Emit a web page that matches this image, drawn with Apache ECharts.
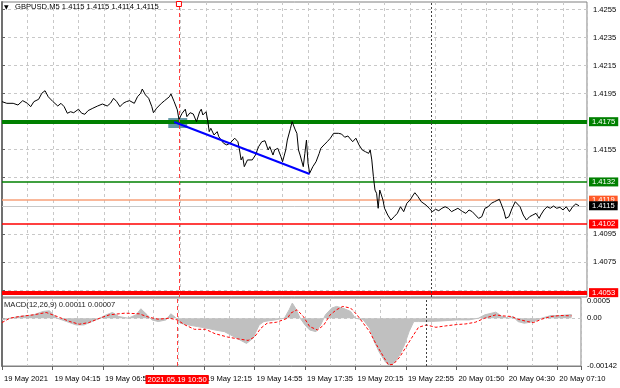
<!DOCTYPE html>
<html><head><meta charset="utf-8">
<script src="https://cdn.jsdelivr.net/npm/echarts@6/dist/echarts.min.js"></script>
<style>html,body{margin:0;padding:0;background:#fff}#c{width:620px;height:388px}</style>
</head><body><div id="c"></div>
<script>
// ---------------- DATA ----------------
// x values are 5-minute bar indexes counted from the first bar on screen
const symbolName = 'GBPUSD,M5';
const lastOHLC = [1.4115, 1.4115, 1.4114, 1.4115];
const macdParams = '12,26,9';
const macdNow = [0.00011, 0.00007];

const xTickLabels = ['19 May 2021','19 May 04:15','19 May 06:55','','19 May 12:15','19 May 14:55',
  '19 May 17:35','19 May 20:15','19 May 22:55','20 May 01:50','20 May 04:30','20 May 07:10'];
const signalBar = 111;            // 2021.05.19 10:50
const signalBarLabel = '2021.05.19 10:50';
const daySepBar = 269;            // 20 May 00:00

const priceGridTicks = [1.4055,1.4075,1.4095,1.4115,1.4135,1.4155,1.4175,1.4195,1.4215,1.4235,1.4255];
const priceTickLabels = [1.4075,1.4095,1.4155,1.4195,1.4215,1.4235,1.4255];
const levelPrices = [1.4175, 1.4132, 1.4119, 1.4115, 1.4102, 1.4053];

const macdTickVals = [0.0005, 0, -0.00142];
const macdTickText = ['0.0005', '0.00', '-0.00142'];

const priceSeries = [[0,1.41893],[3,1.41881],[7,1.41881],[10,1.41869],[13,1.41900],[16,1.41881],[18,1.41857],[20,1.41893],
[23,1.41910],[25,1.41953],[27,1.41971],[29,1.41928],[32,1.41893],[35,1.41862],[37,1.41881],[39,1.41857],[41,1.41810],
[43,1.41821],[45,1.41814],[48,1.41839],[50,1.41810],[52,1.41803],[54,1.41829],[57,1.41846],[60,1.41862],[63,1.41876],
[66,1.41862],[68,1.41881],[70,1.41917],[72,1.41893],[74,1.41857],[76,1.41881],[78,1.41893],[80,1.41900],[83,1.41881],
[85,1.41928],[87,1.41953],[88,1.41983],[90,1.41941],[92,1.41917],[94,1.41857],[95,1.41814],[97,1.41846],[98,1.41857],
[100,1.41881],[102,1.41900],[105,1.41928],[106,1.41948],[108,1.41893],[110,1.41834],[111,1.41767],[113,1.41810],
[115,1.41839],[116,1.41786],[118,1.41814],[120,1.41805],[122,1.41750],[124,1.41821],[125,1.41839],[126,1.41798],
[128,1.41821],[129,1.41762],[130,1.41679],[131,1.41703],[133,1.41655],[135,1.41679],[136,1.41643],[137,1.41655],
[139,1.41596],[141,1.41584],[143,1.41596],[144,1.41607],[146,1.41632],[148,1.41607],[149,1.41548],[150,1.41477],
[151,1.41500],[152,1.41429],[154,1.41477],[155,1.41489],[157,1.41477],[159,1.41512],[161,1.41572],[163,1.41607],
[165,1.41614],[167,1.41548],[168,1.41572],[170,1.41512],[171,1.41548],[173,1.41560],[175,1.41500],[176,1.41464],
[178,1.41548],[179,1.41619],[181,1.41703],[182,1.41750],[184,1.41691],[185,1.41667],[186,1.41548],[187,1.41512],
[189,1.41429],[190,1.41524],[191,1.41619],[192,1.41453],[193,1.41382],[195,1.41429],[197,1.41464],[199,1.41524],
[200,1.41560],[202,1.41584],[204,1.41607],[206,1.41632],[208,1.41667],[209,1.41660],[211,1.41667],[213,1.41662],
[215,1.41639],[217,1.41648],[220,1.41607],[222,1.41632],[224,1.41584],[226,1.41548],[228,1.41536],[230,1.41524],
[231,1.41548],[232,1.41477],[233,1.41357],[234,1.41262],[235,1.41239],[236,1.41132],[237,1.41262],[238,1.41227],
[239,1.41191],[240,1.41132],[242,1.41084],[244,1.41048],[246,1.41072],[248,1.41096],[250,1.41143],[252,1.41108],
[254,1.41168],[256,1.41191],[258,1.41227],[259,1.41243],[261,1.41215],[263,1.41179],[266,1.41155],[268,1.41132],
[270,1.41108],[272,1.41125],[274,1.41115],[276,1.41132],[278,1.41143],[280,1.41132],[282,1.41108],[284,1.41120],
[286,1.41132],[289,1.41108],[291,1.41096],[293,1.41120],[295,1.41108],[297,1.41084],[299,1.41060],[301,1.41072],
[303,1.41132],[305,1.41143],[307,1.41168],[309,1.41179],[312,1.41196],[313,1.41168],[315,1.41108],[316,1.41060],
[318,1.41072],[320,1.41132],[322,1.41179],[323,1.41191],[325,1.41143],[327,1.41084],[329,1.41048],[331,1.41072],
[333,1.41084],[335,1.41096],[337,1.41060],[338,1.41084],[340,1.41120],[342,1.41143],[344,1.41132],[346,1.41148],
[348,1.41132],[350,1.41139],[352,1.41120],[354,1.41143],[356,1.41108],[358,1.41143],[360,1.41163],[362,1.41150]];

const macdHist = [[0,-0.00005],[5,0],[11,0.00005],[20,0.0001],[26,0.0002],[30,0.00022],[35,0],[41,-0.0001],[47,-0.0002],
[52,-0.0002],[57,-0.0001],[62,0],[66,0.0001],[70,0.00017],[74,0.00005],[80,0],[85,0.0001],[88,0.00028],[92,0.0001],
[95,-0.00005],[99,-0.0001],[104,-0.00005],[107,0.00013],[110,0.00002],[113,-0.00015],[118,-0.0002],[124,-0.00025],
[130,-0.0003],[135,-0.00035],[141,-0.0004],[145,-0.0005],[149,-0.0006],[155,-0.00075],[159,-0.0006],[163,-0.0002],
[166,-0.0001],[173,-0.00005],[179,0],[182,0.00025],[184,0.00045],[186,0.0003],[189,0],[192,-0.0002],[195,-0.00035],
[199,-0.0004],[202,-0.0002],[205,0.0001],[209,0.0003],[212,0.00035],[216,0.0003],[221,0.0002],[224,0],[229,-0.00005],
[233,-0.0003],[236,-0.0007],[239,-0.001],[243,-0.0013],[246,-0.00142],[249,-0.0013],[252,-0.0011],[255,-0.0008],
[258,-0.0004],[261,-0.0001],[264,-0.0001],[271,-0.0001],[279,-0.00008],[288,-0.00005],[296,-0.00005],[302,0],
[306,0.0001],[313,0.00018],[317,0.00005],[321,0],[324,0.00005],[327,-0.0001],[331,-0.00015],[337,-0.0001],[342,0],
[348,0.00008],[354,0.00008],[361,0.00011]];

const macdSignal = [[0,-0.00013],[5,0],[11,0.00005],[20,0.0001],[28,0.00017],[35,0.00005],[43,-0.0001],[49,-0.00018],
[55,-0.00013],[62,0],[68,0.0001],[78,0.00015],[87,0.00013],[93,0.00003],[99,-0.00003],[106,0],[111,-0.00005],
[116,-0.0002],[122,-0.00033],[129,-0.00033],[135,-0.00046],[143,-0.00056],[149,-0.00061],[156,-0.00066],[160,-0.00056],
[164,-0.0003],[168,-0.00015],[174,-0.00012],[181,0],[183,0.00015],[187,0.00025],[191,0.00005],[195,-0.00025],
[200,-0.00035],[204,-0.0002],[208,0.0001],[212,0.00025],[216,0.00035],[221,0.0003],[225,0.0001],[229,-0.00015],
[233,-0.0004],[237,-0.00076],[242,-0.00116],[245,-0.00139],[248,-0.00137],[252,-0.00116],[256,-0.00086],[260,-0.00056],
[264,-0.00027],[269,-0.0002],[275,-0.00027],[281,-0.00023],[288,-0.00019],[294,-0.00017],[300,-0.00012],[306,0],
[313,0.0001],[317,0.00007],[323,0.00005],[327,-0.00003],[333,-0.0001],[337,-0.00013],[342,-0.00003],[348,0.00005],
[354,0.00008],[361,0.00007]];

const trendLine = [[108, 1.41748], [193, 1.41377]];
const zoneRect = [[104.3, 1.41776], [116.2, 1.41705]];

// ---------------- STYLE ----------------
const FONT = 'Liberation Sans';
const FS = 7.6;
const gridColor = '#c8c8c8';
const frame = '#808080';
const priceMin = 1.40499, priceMax = 1.42604;
const macdMin = -0.00142, macdMax = 0.0006;
const levelStyles = [
  {line:'#008000', width:4, box:'#008000', text:'#fff'},
  {line:'#008000', width:1.5, box:'#008000', text:'#fff'},
  {line:'#f7a07a', width:1.5, box:'#ff5a28', text:'#fff'},
  {line:'#c8c8c8', width:1, box:'#000000', text:'#fff'},
  {line:'#ff0000', width:1.5, box:'#ff0000', text:'#fff'},
  {line:'#ff0000', width:4, box:'#ff0000', text:'#fff'}
];

const chart = echarts.init(document.getElementById('c'), null, {renderer:'canvas'});

const levelData = levelPrices.map((p, i) => ({
  yAxis: p,
  lineStyle: {color: levelStyles[i].line, width: levelStyles[i].width, type: 'solid'},
  label: {show: true, position: 'end', distance: 2, formatter: p.toFixed(4), color: levelStyles[i].text,
          backgroundColor: levelStyles[i].box, padding: [1, 3, 0, 3], fontSize: FS, fontFamily: FONT, lineHeight: 8}
}));

const vLines = (withLabel) => [
  {xAxis: signalBar, lineStyle: {color: '#ff4040', width: 1, type: [4, 3]},
   label: withLabel ? {show: true, position: 'start', distance: 9, formatter: signalBarLabel, color: '#fff',
          backgroundColor: '#ff0000', padding: [1, 2, 0, 2], fontSize: FS, fontFamily: FONT, lineHeight: 8} : {show: false}},
  {xAxis: daySepBar, lineStyle: {color: '#404040', width: 1, type: [2, 2]}, label: {show: false}}
];

const xLabelFmt = v => (v % 32 === 0 ? (xTickLabels[v / 32] || '') : '');
const dashed = {show: true, lineStyle: {color: gridColor, type: [3, 3], width: 1}};

const option = {
  animation: false,
  backgroundColor: '#ffffff',
  textStyle: {fontFamily: FONT},
  grid: [
    {left: 2, right: 33, top: 2, height: 295, show: true, borderColor: frame, borderWidth: 1},
    {left: 2, right: 33, top: 298, height: 68, show: true, borderColor: frame, borderWidth: 1}
  ],
  xAxis: [
    {gridIndex: 0, type: 'value', min: 0, max: 367, interval: 32,
     axisLine: {show: false}, axisTick: {show: false}, axisLabel: {show: false},
     splitLine: dashed, minorTick: {show: false, splitNumber: 2}, minorSplitLine: dashed},
    {gridIndex: 1, type: 'value', min: 0, max: 367, interval: 32, position: 'bottom',
     axisLine: {show: true, onZero: false, lineStyle: {color: frame, width: 1}},
     axisTick: {show: true, length: 4, lineStyle: {color: '#606060'}},
     axisLabel: {show: true, fontSize: FS, color: '#000', align: 'left', margin: 9, padding: [0, 0, 0, 2], formatter: xLabelFmt},
     splitLine: dashed, minorTick: {show: false, splitNumber: 2}, minorSplitLine: dashed}
  ],
  yAxis: [
    {gridIndex: 0, type: 'value', position: 'right', min: priceMin, max: priceMax,
     axisLine: {show: true, lineStyle: {color: '#707070', width: 2}},
     axisTick: {show: true, length: 3, customValues: priceGridTicks, lineStyle: {color: '#606060'}},
     axisLabel: {show: true, customValues: priceTickLabels, fontSize: FS, color: '#000', margin: 6, formatter: v => v.toFixed(4)},
     splitLine: dashed},
    {gridIndex: 1, type: 'value', position: 'right', min: macdMin, max: macdMax,
     axisLine: {show: true, lineStyle: {color: '#707070', width: 2}},
     axisTick: {show: true, length: 3, customValues: [0], lineStyle: {color: '#606060'}},
     axisLabel: {show: true, customValues: macdTickVals, fontSize: FS, color: '#000', margin: 6,
       formatter: v => { const i = macdTickVals.findIndex(t => Math.abs(t - v) < 1e-9); return i >= 0 ? macdTickText[i] : ''; }},
     splitLine: dashed}
  ],
  graphic: [
    {type: 'text', left: 4, top: 4, z: 10, style: {text: '▼', fontSize: 6, fill: '#000', fontFamily: 'DejaVu Sans'}},
    {type: 'text', left: 15, top: 3, z: 10, style: {text: symbolName + ' ' + lastOHLC.map(v => v.toFixed(4)).join(' '), fontSize: FS, fontFamily: FONT, fill: '#000'}},
    {type: 'text', left: 4, top: 301, z: 10, style: {text: 'MACD(' + macdParams + ') ' + macdNow.map(v => v.toFixed(5)).join(' '), fontSize: FS, fontFamily: FONT, fill: '#202020'}}
  ],
  series: [
    {name: 'levels', type: 'line', xAxisIndex: 0, yAxisIndex: 0, data: [], z: 2,
     markLine: {silent: true, precision: 6, symbol: ['none', 'none'], animation: false, data: levelData.concat(vLines(false))},
     markPoint: {silent: true, data: [{coord: [signalBar, priceMax], symbol: 'rect', symbolSize: [5, 5], symbolOffset: [0, 2],
       itemStyle: {color: '#ffffff', borderColor: '#ff0000', borderWidth: 1}, label: {show: false}}]}},
    {name: 'zone', type: 'line', xAxisIndex: 0, yAxisIndex: 0, data: [], z: 3,
     markArea: {silent: true, itemStyle: {color: 'rgba(72,136,150,0.85)'},
       data: [[{coord: zoneRect[0]}, {coord: zoneRect[1]}]]}},
    {name: 'price', type: 'line', xAxisIndex: 0, yAxisIndex: 0, data: priceSeries, symbol: 'none', z: 5,
     lineStyle: {color: '#000', width: 1}},
    {name: 'trend', type: 'line', xAxisIndex: 0, yAxisIndex: 0, data: trendLine, symbol: 'none', z: 6,
     lineStyle: {color: '#0000ff', width: 2}},
    {name: 'hist', type: 'line', xAxisIndex: 1, yAxisIndex: 1, data: macdHist, symbol: 'none', z: 3,
     lineStyle: {color: '#c0c0c0', width: 1}, areaStyle: {color: '#c0c0c0', opacity: 1, origin: 0},
     markLine: {silent: true, precision: 6, symbol: ['none', 'none'], animation: false, data: vLines(true)}},
    {name: 'signal', type: 'line', xAxisIndex: 1, yAxisIndex: 1, data: macdSignal, symbol: 'none', z: 4,
     lineStyle: {color: '#ff0000', width: 1, type: [3, 2]}}
  ]
};
chart.setOption(option);
</script>
</body></html>
